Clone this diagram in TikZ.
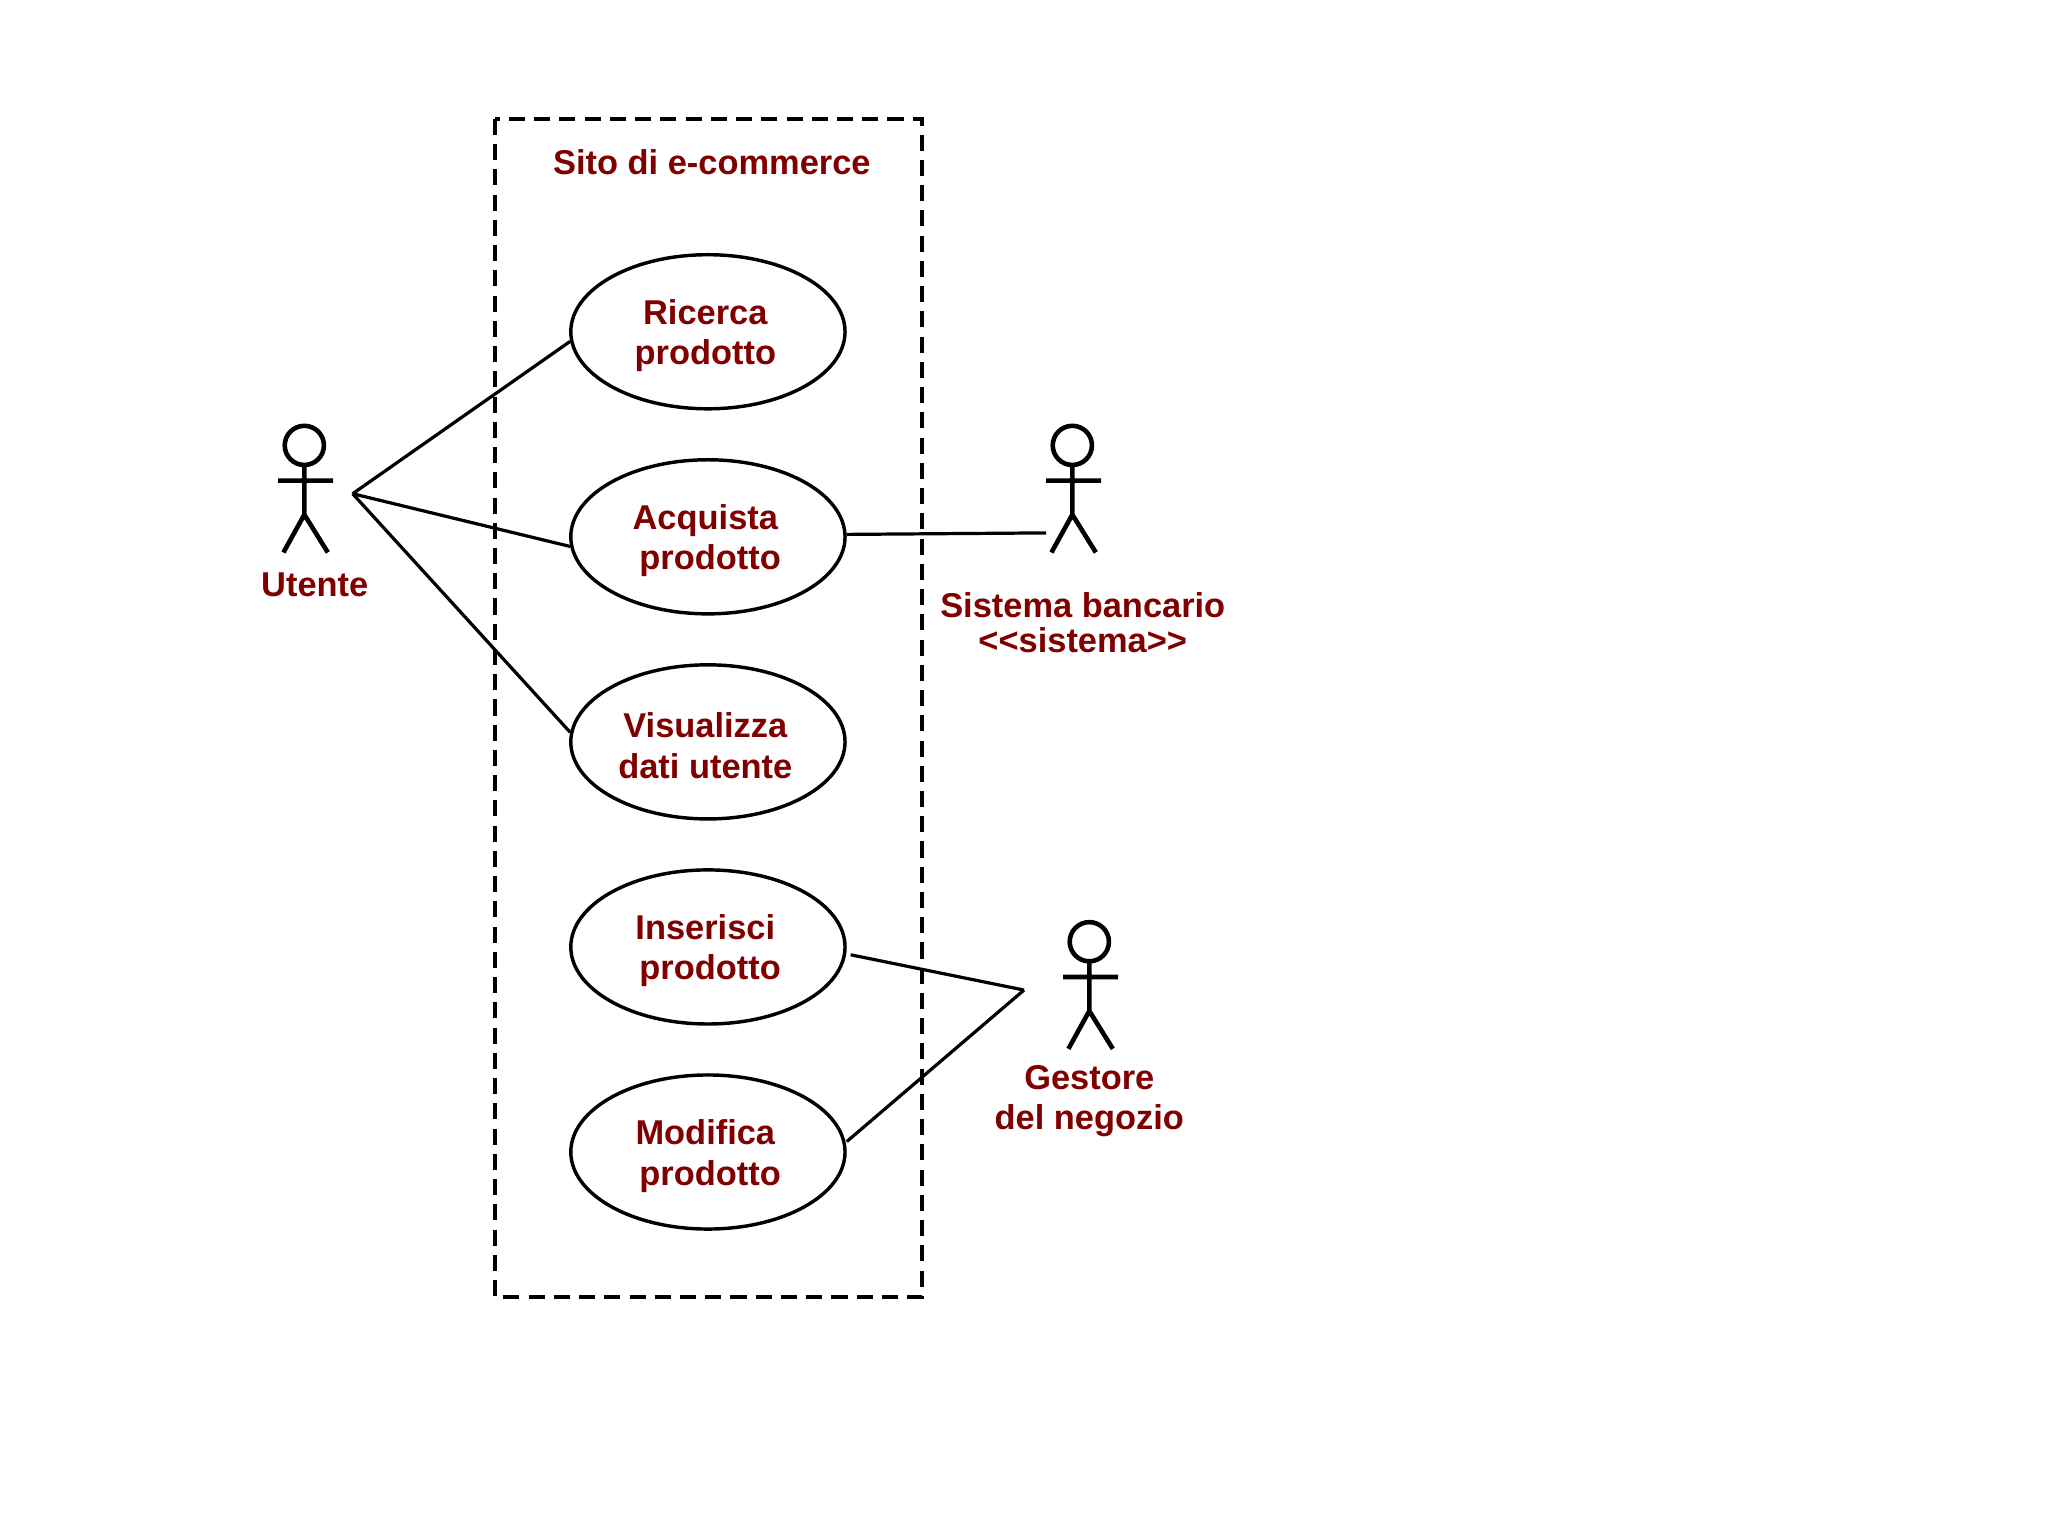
\documentclass[tikz,border=0pt]{standalone}
\usepackage{fontspec}
\setmainfont{Liberation Sans}
\usetikzlibrary{shapes.geometric}
\definecolor{dred}{HTML}{800000}
\begin{document}
\begin{tikzpicture}[x=0.02cm,y=-0.02cm,
  uc/.style={ellipse,draw,line width=1.5pt,minimum width=4.2cm,minimum height=2.36cm},
  lbl/.style={align=center,font=\fontsize{15}{17.6}\selectfont\bfseries,text=dred,inner sep=1pt},
  conn/.style={line width=1.4pt},
  act/.style={line width=2pt}]
\useasboundingbox (0,0) rectangle (1568,1176);
\draw[line width=1.5pt,dash pattern=on 7pt off 4pt] (379,91) rectangle (706,993);
\node[lbl] (title) at (545,124) {Sito di e-commerce};
\foreach \n/\y/\t in {u1/254/{Ricerca\\prodotto},u2/411/{Acquista\\\ prodotto},u3/568/{Visualizza\\dati utente},u4/725/{Inserisci\\\ prodotto},u5/882/{Modifica\\\ prodotto}}{
  \node[uc] (\n) at (542,\y) {};
  \node[lbl] (\n t) at (540,\y+3) {\t};
}
% actors
\foreach \n/\x/\y in {a/233/341,b/821/341,c/834/721}{
  \draw[act] (\x,\y) circle (15);
  \draw[act] (\x,\y+15) -- (\x,\y+53) (\x-20,\y+27) -- (\x+22,\y+27)
    (\x-16,\y+82) -- (\x,\y+53) -- (\x+18,\y+82);
}
\node[lbl] (la) at (241,448) {Utente};
\node[lbl] (lb) at (829,463) {Sistema bancario};
\node[lbl] (lb2) at (829,490) {{<}{<}sistema{>}{>}};
\node[lbl] (lc) at (834,843) {Gestore\\del negozio};
\coordinate (pa) at (270,378);
\coordinate (pb) at (801,408);
\coordinate (pc) at (784,758);
\draw[conn] (pa) -- (u1.184);
\draw[conn] (pa) -- (u2.184);
\draw[conn] (pa) -- (u3.176);
\draw[conn] (u2.1.5) -- (pb);
\draw[conn] (u4.east) ++(3,6) -- (pc);
\draw[conn] (u5.east) ++(0,-8) -- (pc);
\end{tikzpicture}
\end{document}
